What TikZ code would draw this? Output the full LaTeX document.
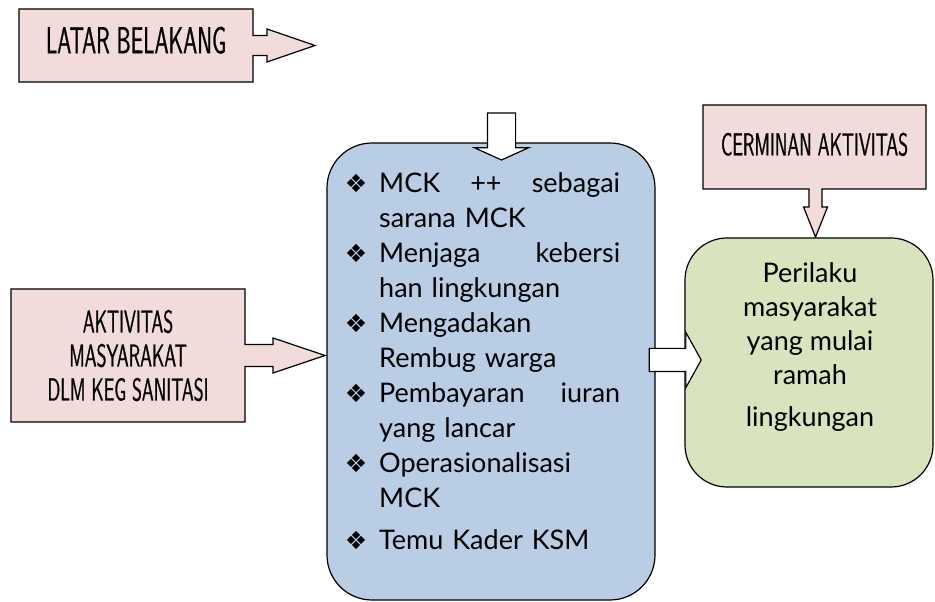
\documentclass[tikz,border=0pt]{standalone}
\usepackage{fontspec}
\setmainfont{Lato}
\newfontfamily\agencyfont[FakeStretch=0.56,FakeBold=0.8]{lmsans10-regular.otf}
\newfontfamily\dingfont{DejaVu Sans}
\usetikzlibrary{shapes.arrows,calc,positioning,backgrounds}
\definecolor{calloutpink}{HTML}{F2DCDB}
\definecolor{listblue}{HTML}{B9CDE5}
\definecolor{resultgreen}{HTML}{D7E4BD}
\newcommand{\bul}{\leavevmode\llap{{\dingfont\fontsize{25}{25}\selectfont ❖}\hspace{12pt}}}
\tikzset{
    callout/.style={rectangle,inner sep=0pt,outer sep=0pt,align=center,font=\agencyfont\fontsize{37.5}{34}\selectfont},
    outline/.style={draw=black,line width=1.2pt,line join=miter,fill=calloutpink},
    listbox/.style={rectangle,rounded corners=45pt,draw=black,line width=1.2pt,fill=listblue},
    resultbox/.style={rectangle,rounded corners=42pt,draw=black,line width=1.2pt,fill=resultgreen},
    blockarrow/.style={single arrow,draw=black,line width=1.2pt,fill=white,inner xsep=0pt,single arrow head indent=0pt}
}
\begin{document}
\begin{tikzpicture}[x=1pt,y=1pt]
\useasboundingbox (0,0) rectangle (935,602);

% callout boxes
\node[callout,minimum width=234,minimum height=73,text depth=11pt] (latar) at (136,556.5) {LATAR BELAKANG};
\node[callout,minimum width=234,minimum height=133,font=\agencyfont\fontsize{31.7}{34}\selectfont] (aktivitas) at (128,246.5) {AKTIVITAS\\MASYARAKAT\\DLM KEG SANITASI};
\node[callout,minimum width=223,minimum height=84,text depth=6pt,font=\agencyfont\fontsize{31.7}{30}\selectfont] (cerminan) at (814.5,455) {CERMINAN AKTIVITAS};

\begin{scope}[on background layer]
    \path[outline] (latar.north west) -- (latar.north east) -- ($(latar.east)+(0,10)$) -- ++(14,0) -- ++(0,6.5)
        -- ($(latar.east)+(62,0)$) -- ($(latar.east)+(14,-16.5)$) -- ++(0,6.5) -- ($(latar.east)+(0,-10)$)
        -- (latar.south east) -- (latar.south west) -- cycle;
    \path[outline] (aktivitas.north west) -- (aktivitas.north east) -- ($(aktivitas.east)+(0,11)$) -- ++(28,0) -- ++(0,6.5)
        -- ($(aktivitas.east)+(80,0)$) -- ($(aktivitas.east)+(28,-17.5)$) -- ++(0,6.5) -- ($(aktivitas.east)+(0,-11)$)
        -- (aktivitas.south east) -- (aktivitas.south west) -- cycle;
    \path[outline] (cerminan.north west) -- (cerminan.north east) -- (cerminan.south east) -- ($(cerminan.south)+(7.5,0)$)
        -- ++(0,-18) -- ++(5.5,0) -- ($(cerminan.south)+(1,-48)$) -- ($(cerminan.south)+(-11,-18)$) -- ++(5.5,0)
        -- ($(cerminan.south)+(-5.5,0)$) -- (cerminan.south west) -- cycle;
\end{scope}

% main boxes
\node[listbox,minimum width=328,minimum height=457] (kegiatan) at (491,230.5) {};
\node[anchor=north west,text width=241,align=left,inner sep=0pt,font=\fontsize{27}{35}\selectfont] (daftar) at (379,430) {%
    \bul MCK \hfill ++ \hfill sebagai\\
    sarana MCK\\
    \bul Menjaga \hfill kebersi\\
    han lingkungan\\
    \bul Mengadakan\\
    Rembug warga\\
    \bul Pembayaran \hfill iuran\\
    yang lancar\\
    \bul Operasionalisasi\\
    MCK\\[7pt]
    \bul Temu Kader KSM};

\node[resultbox,minimum width=248,minimum height=249] (perilaku) at (809,239.5) {};
\node[anchor=north,align=center,inner sep=0pt,font=\fontsize{27}{34}\selectfont] (perilakutext) at (810,340)
    {Perilaku\\masyarakat\\yang mulai\\ramah\\[8pt]lingkungan};

% block arrows
\node[blockarrow,rotate=-90,minimum height=47,minimum width=53,inner ysep=13.5,single arrow head extend=13,
    single arrow tip angle=131.3,anchor=tail] (masuk) at ($(kegiatan.north)+(10.5,30)$) {};
\node[blockarrow,minimum height=52,minimum width=54,inner ysep=11,single arrow head extend=16,
    single arrow tip angle=121.9,anchor=tail] (hasil) at ($(kegiatan.east)+(-7,11.5)$) {};

\end{tikzpicture}
\end{document}
